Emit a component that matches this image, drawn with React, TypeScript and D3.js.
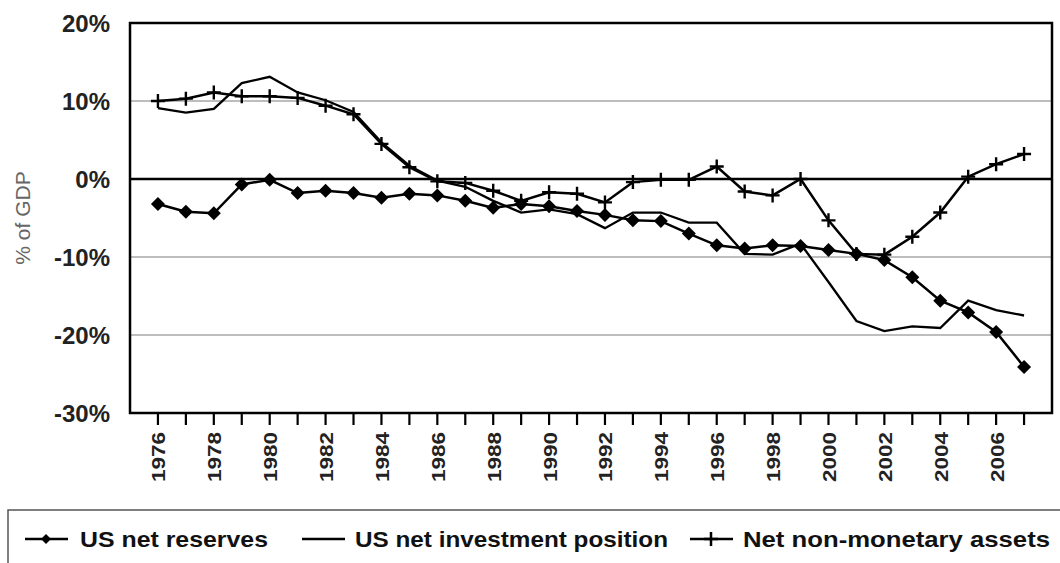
import React from "react";
import * as d3 from "d3";

const years = [
  1976, 1977, 1978, 1979, 1980, 1981, 1982, 1983, 1984, 1985, 1986, 1987, 1988, 1989, 1990, 1991,
  1992, 1993, 1994, 1995, 1996, 1997, 1998, 1999, 2000, 2001, 2002, 2003, 2004, 2005, 2006, 2007,
];
const yearLabels = [1976, 1978, 1980, 1982, 1984, 1986, 1988, 1990, 1992, 1994, 1996, 1998, 2000, 2002, 2004, 2006];

const netReserves = [
  -3.2, -4.2, -4.4, -0.7, -0.1, -1.8, -1.5, -1.8, -2.4, -1.9, -2.1, -2.8, -3.7, -3.2, -3.5, -4.1,
  -4.6, -5.3, -5.4, -7.0, -8.5, -8.9, -8.5, -8.6, -9.1, -9.6, -10.4, -12.6, -15.6, -17.1, -19.6, -24.1,
];
const netInvestment = [
  9.1, 8.5, 9.0, 12.3, 13.1, 11.1, 10.1, 8.6, 4.7, 1.7, -0.2, -1.0, -2.8, -4.3, -3.9, -4.5,
  -6.3, -4.3, -4.3, -5.6, -5.6, -9.6, -9.7, -8.3, -13.2, -18.2, -19.5, -18.9, -19.1, -15.6, -16.8, -17.5,
];
const nonMonetary = [
  10.0, 10.3, 11.1, 10.6, 10.6, 10.4, 9.4, 8.3, 4.5, 1.5, -0.3, -0.5, -1.5, -2.8, -1.7, -1.9,
  -3.0, -0.4, -0.1, -0.1, 1.6, -1.6, -2.1, 0.0, -5.3, -9.6, -9.7, -7.4, -4.3, 0.3, 1.9, 3.2,
];

const yTicks = [20, 10, 0, -10, -20, -30];
const gridValues = [10, -10, -20];

const W = 1060;
const H = 563;
const plot = { left: 130, right: 1052, top: 23, bottom: 413 };

const font = "'Liberation Sans', Arial, sans-serif";

function Diamond({ x, y, s = 7 }: { x: number; y: number; s?: number }) {
  return <path d={`M${x},${y - s}L${x + s},${y}L${x},${y + s}L${x - s},${y}Z`} fill="#000" />;
}

function Plus({ x, y, s = 7, w = 2.4 }: { x: number; y: number; s?: number; w?: number }) {
  return (
    <path d={`M${x - s},${y}H${x + s}M${x},${y - s}V${y + s}`} stroke="#000" strokeWidth={w} fill="none" />
  );
}

export default function App() {
  const x = d3.scaleLinear().domain([1975, 2008]).range([plot.left, plot.right]);
  const y = d3.scaleLinear().domain([-30, 20]).range([plot.bottom, plot.top]);

  const line = d3
    .line<number>()
    .x((_, i) => x(years[i]))
    .y((d) => y(d));

  return (
    <svg width={W} height={H} style={{ position: "absolute", left: 0, top: 0, background: "#fff" }}>
      {/* grid */}
      {gridValues.map((v) => (
        <line key={v} x1={plot.left} x2={plot.right} y1={y(v)} y2={y(v)} stroke="#bdbdbd" strokeWidth={2} />
      ))}
      <line x1={plot.left} x2={plot.right} y1={y(0)} y2={y(0)} stroke="#000" strokeWidth={2.5} />

      {/* series */}
      <path d={line(netInvestment)!} fill="none" stroke="#000" strokeWidth={2.3} />
      <path d={line(nonMonetary)!} fill="none" stroke="#000" strokeWidth={2.5} />
      <path d={line(netReserves)!} fill="none" stroke="#000" strokeWidth={2.5} />
      {nonMonetary.map((v, i) => (
        <Plus key={"p" + i} x={x(years[i])} y={y(v)} />
      ))}
      {netReserves.map((v, i) => (
        <Diamond key={"d" + i} x={x(years[i])} y={y(v)} />
      ))}

      {/* frame */}
      <rect
        x={plot.left}
        y={plot.top}
        width={plot.right - plot.left}
        height={plot.bottom - plot.top}
        fill="none"
        stroke="#000"
        strokeWidth={2.5}
      />

      {/* y axis labels */}
      {yTicks.map((v) => (
        <text
          key={v}
          x={110}
          y={y(v)}
          dy="0.36em"
          textAnchor="end"
          fontFamily={font}
          fontWeight="bold"
          fontSize={24}
          fill="#222"
        >
          {v + "%"}
        </text>
      ))}
      <text
        transform={`translate(30,218) rotate(-90)`}
        textAnchor="middle"
        fontFamily={font}
        fontSize={21}
        fill="#666"
      >
        % of GDP
      </text>

      {/* x ticks */}
      {years.map((yr) => (
        <line key={yr} x1={x(yr)} x2={x(yr)} y1={plot.bottom} y2={plot.bottom + 12} stroke="#000" strokeWidth={2.2} />
      ))}
      {yearLabels.map((yr) => (
        <text
          key={yr}
          transform={`translate(${x(yr) + 1},${plot.bottom + 19}) rotate(-90)`}
          dy="0.36em"
          textAnchor="end"
          fontFamily={font}
          fontWeight="bold"
          fontSize={18}
          textLength={50}
          lengthAdjust="spacingAndGlyphs"
          fill="#222"
        >
          {yr}
        </text>
      ))}

      {/* legend */}
      <rect x={8} y={510} width={1070} height={70} fill="none" stroke="#555" strokeWidth={1.5} />
      <g fontFamily={font} fontWeight="bold" fontSize={22} fill="#111">
        <line x1={25} x2={68} y1={539} y2={539} stroke="#000" strokeWidth={2.5} />
        <Diamond x={46} y={539} s={5} />
        <text x={80} y={539} dy="0.36em" textLength={188} lengthAdjust="spacingAndGlyphs">
          US net reserves
        </text>
        <line x1={302} x2={345} y1={539} y2={539} stroke="#000" strokeWidth={2.5} />
        <text x={355} y={539} dy="0.36em" textLength={313} lengthAdjust="spacingAndGlyphs">
          US net investment position
        </text>
        <line x1={690} x2={733} y1={539} y2={539} stroke="#000" strokeWidth={2.5} />
        <Plus x={711} y={539} s={7} w={2.5} />
        <text x={743} y={539} dy="0.36em" textLength={307} lengthAdjust="spacingAndGlyphs">
          Net non-monetary assets
        </text>
      </g>
    </svg>
  );
}
